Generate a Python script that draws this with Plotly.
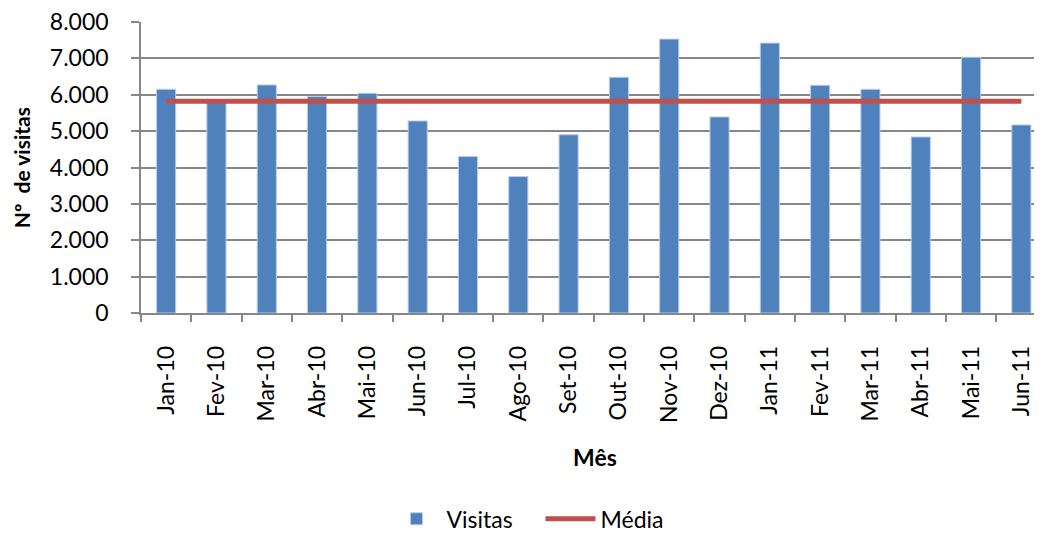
import plotly.graph_objects as go

meses = ["Jan-10", "Fev-10", "Mar-10", "Abr-10", "Mai-10", "Jun-10", "Jul-10", "Ago-10", "Set-10",
         "Out-10", "Nov-10", "Dez-10", "Jan-11", "Fev-11", "Mar-11", "Abr-11", "Mai-11", "Jun-11"]
visitas = [6150, 5800, 6270, 5950, 6040, 5280, 4300, 3750, 4900,
           6480, 7530, 5390, 7420, 6260, 6150, 4840, 7030, 5170]
media_valor = 5820
media = [media_valor] * len(meses)
y_ticks = [0, 1000, 2000, 3000, 4000, 5000, 6000, 7000, 8000]

FONT = "Lato"
GRID = "#878787"

fig = go.Figure()
fig.add_trace(go.Bar(
    x=meses, y=visitas, name="Visitas", width=0.38,
    marker=dict(color="#4F81BD", line=dict(color="#B9CDE5", width=1)),
))
fig.add_trace(go.Scatter(
    x=meses, y=media, name="Média", mode="lines",
    line=dict(color="#C0504D", width=5),
))

# page body has an 8px margin: the figure is sized and placed to compensate
fig.update_layout(
    width=1034, height=531,
    margin=dict(l=133, r=0, t=14, b=226),
    paper_bgcolor="white", plot_bgcolor="white",
    separators=",.",
    font=dict(family=FONT, size=23, color="#000000"),
    showlegend=True,
    legend=dict(orientation="h", xref="container", yref="container",
                x=0.515, xanchor="center", y=0.038, yanchor="middle",
                font=dict(family=FONT, size=23), itemwidth=50, traceorder="normal",
                entrywidth=89, entrywidthmode="pixels"),
)
fig.update_xaxes(
    type="category", range=[-0.5, 17.41], automargin=False,
    tickangle=-90, tickfont=dict(family=FONT, size=23),
    ticks="outside", ticklen=7, tickwidth=1.5, tickcolor=GRID, tickson="boundaries",
    showline=True, linecolor=GRID, linewidth=1.5,
    showgrid=False, ticklabelstandoff=22, ticklabeloverflow="allow",
)
fig.update_yaxes(
    range=[0, 8000], tickvals=y_ticks, tickformat=",d", automargin=False,
    tickfont=dict(family=FONT, size=23),
    ticks="outside", ticklen=8, tickwidth=1.5, tickcolor=GRID,
    showline=True, linecolor=GRID, linewidth=1.5,
    showgrid=True, gridcolor=GRID, gridwidth=1.5,
    zeroline=False, ticklabelstandoff=18, ticklabeloverflow="allow",
)
fig.add_annotation(text="<b>Nº  de visitas</b>", xref="paper", yref="paper",
                   x=-0.133, y=0.498, xanchor="center", yanchor="middle",
                   textangle=-90, showarrow=False, font=dict(family=FONT, size=21))
fig.add_annotation(text="<b>Mês</b>", xref="paper", yref="paper",
                   x=0.504, y=-0.495, xanchor="center", yanchor="middle",
                   showarrow=False, font=dict(family=FONT, size=23))

fig.write_html("out.html")
